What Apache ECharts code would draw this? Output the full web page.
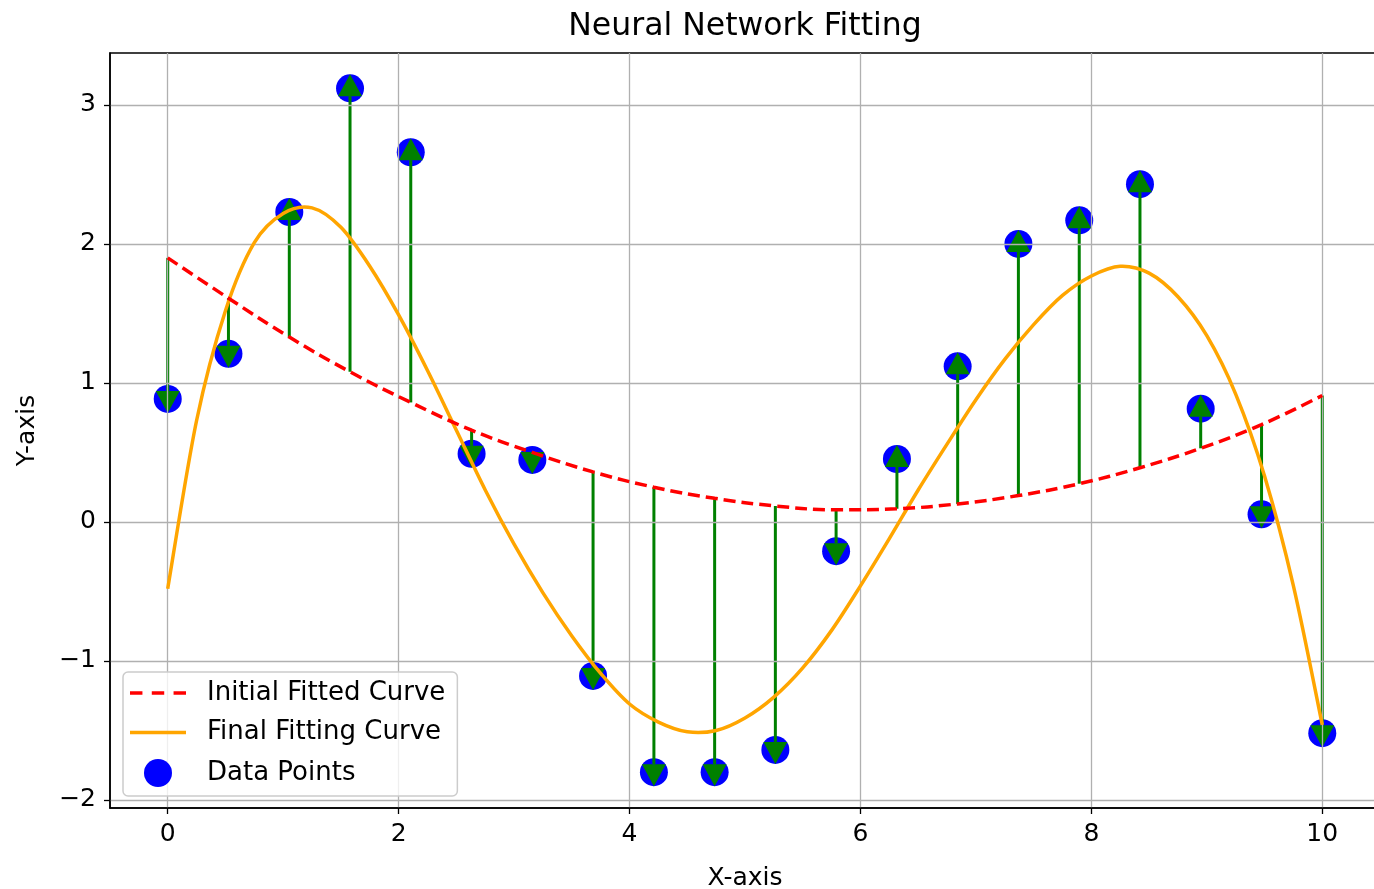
<!DOCTYPE html>
<html>
<head>
<meta charset="utf-8">
<script src="https://cdn.jsdelivr.net/npm/echarts@6/dist/echarts.min.js"></script>
<style>
html,body{margin:0;padding:0;background:#fff;}
#c{width:1374px;height:889px;}
</style>
</head>
<body>
<div id="c"></div>
<script>
// ---- data ----
const xPoints = [0, 0.526, 1.053, 1.579, 2.105, 2.632, 3.158, 3.684, 4.211, 4.737, 5.263, 5.789, 6.316, 6.842, 7.368, 7.895, 8.421, 8.947, 9.474, 10];
const yPoints = [0.885, 1.21, 2.23, 3.12, 2.66, 0.49, 0.446, -1.108, -1.80, -1.80, -1.64, -0.21, 0.453, 1.12, 2.0, 2.17, 2.43, 0.815, 0.055, -1.52];
const yInitial = [1.90, 1.61, 1.33, 1.08, 0.86, 0.66, 0.50, 0.36, 0.25, 0.17, 0.115, 0.087, 0.095, 0.13, 0.19, 0.275, 0.39, 0.53, 0.70, 0.91];
const xFinal = [0, 0.25, 0.5, 0.75, 1.0, 1.25, 1.5, 1.75, 2.0, 2.25, 2.5, 2.75, 3.0, 3.25, 3.5, 3.75, 4.0, 4.25, 4.5, 4.75, 5.0, 5.25, 5.5, 5.75, 6.0, 6.25, 6.5, 6.75, 7.0, 7.25, 7.5, 7.75, 8.0, 8.25, 8.5, 8.75, 9.0, 9.25, 9.5, 9.75, 10];
const yFinal = [-0.48, 0.73, 1.52, 2.01, 2.22, 2.26, 2.12, 1.84, 1.49, 1.09, 0.66, 0.23, -0.16, -0.51, -0.82, -1.09, -1.31, -1.44, -1.51, -1.50, -1.41, -1.26, -1.05, -0.78, -0.46, -0.12, 0.23, 0.56, 0.88, 1.17, 1.42, 1.63, 1.77, 1.84, 1.79, 1.62, 1.34, 0.92, 0.33, -0.46, -1.46];
const xTicks = [0, 2, 4, 6, 8, 10];
const yTicks = [-2, -1, 0, 1, 2, 3];
const titleText = 'Neural Network Fitting';
const xName = 'X-axis';
const yName = 'Y-axis';
const seriesNames = ['Initial Fitted Curve', 'Final Fitting Curve', 'Data Points'];

const FONT = 'DejaVu Sans';
const chart = echarts.init(document.getElementById('c'), null, {renderer: 'canvas'});

const initialData = xPoints.map((x, i) => [x, yInitial[i]]);
const finalData = xFinal.map((x, i) => [x, yFinal[i]]);
const pointData = xPoints.map((x, i) => [x, yPoints[i]]);
const arrowData = xPoints.map((x, i) => [x, yInitial[i], yPoints[i]]);

const fmt = v => String(v).replace('-', '\u2212');

function renderArrow(params, api) {
  const x = api.value(0), yA = api.value(1), yB = api.value(2);
  const p0 = api.coord([x, yA]);
  const p1 = api.coord([x, yB]);
  const d = p1[1] > p0[1] ? 1 : -1;
  const tip = p1[1] + d * 14;
  const base = p1[1] - d * 8;
  const hw = 12;
  return {
    type: 'group',
    children: [
      {type: 'line', shape: {x1: p0[0], y1: p0[1], x2: p1[0], y2: base}, style: {stroke: '#008000', lineWidth: 3}},
      {type: 'polygon', shape: {points: [[p1[0] - hw, base], [p1[0] + hw, base], [p1[0], tip]]}, style: {fill: '#008000'}}
    ]
  };
}

// smooth curve (Catmull-Rom) through the read samples, positioned with the axis scales
function renderSpline(params, api) {
  if (params.dataIndex !== 0) return null;
  const pts = finalData.map(p => api.coord(p));
  const n = pts.length;
  let d = 'M' + pts[0][0] + ' ' + pts[0][1];
  for (let i = 0; i < n - 1; i++) {
    const p0 = pts[Math.max(i - 1, 0)], p1 = pts[i], p2 = pts[i + 1], p3 = pts[Math.min(i + 2, n - 1)];
    const c1x = p1[0] + (p2[0] - p0[0]) / 6, c1y = p1[1] + (p2[1] - p0[1]) / 6;
    const c2x = p2[0] - (p3[0] - p1[0]) / 6, c2y = p2[1] - (p3[1] - p1[1]) / 6;
    d += ' C' + c1x + ' ' + c1y + ' ' + c2x + ' ' + c2y + ' ' + p2[0] + ' ' + p2[1];
  }
  return {
    type: 'path',
    shape: {pathData: d},
    style: {stroke: '#ffa500', lineWidth: 3.5, fill: null, lineJoin: 'round'}
  };
}

const option = {
  backgroundColor: '#ffffff',
  animation: false,
  title: {
    text: titleText,
    left: 740,
    top: 6,
    textAlign: 'center',
    textStyle: {fontFamily: FONT, fontSize: 31.5, fontWeight: 'normal', color: '#000'}
  },
  legend: {
    orient: 'vertical',
    left: 123,
    top: 672,
    data: [
      {name: seriesNames[0], icon: 'path://M0 0h12v3.5h-12z M21 0h12v3.5h-12z M42 0h12v3.5h-12z', itemStyle: {color: '#ff0000'}},
      {name: seriesNames[1], icon: 'path://M0 0h56v3.5h-56z', itemStyle: {color: '#ffa500'}},
      {name: seriesNames[2], icon: 'circle', itemStyle: {color: '#0000ff'}}
    ],
    itemWidth: 56,
    itemHeight: 28,
    itemGap: 13.5,
    padding: [8, 12, 9, 7],
    backgroundColor: 'rgba(255,255,255,0.8)',
    borderColor: '#cccccc',
    borderWidth: 1.5,
    borderRadius: 5,
    textStyle: {fontFamily: FONT, fontSize: 26, color: '#000', padding: [0, 0, 0, 16]},
    z: 10
  },
  grid: {
    left: 110, top: 53, right: -6, bottom: 81,
    show: true, borderColor: '#000', borderWidth: 1.5,
    outerBoundsMode: 'none',
    containLabel: false
  },
  xAxis: {
    type: 'value', min: -0.5, max: 10.5, z: 2,
    name: xName, nameLocation: 'middle', nameGap: 58,
    nameTextStyle: {fontFamily: FONT, fontSize: 25, color: '#000'},
    axisLine: {show: true, onZero: false, lineStyle: {color: '#000', width: 1.5}},
    axisTick: {show: true, length: 6, customValues: xTicks, lineStyle: {color: '#000', width: 1.3}},
    axisLabel: {customValues: xTicks, margin: 14, fontFamily: FONT, fontSize: 25, color: '#000', formatter: fmt},
    splitLine: {show: true, lineStyle: {color: '#b0b0b0', width: 1.3, type: 'solid'}}
  },
  yAxis: {
    type: 'value', min: -2.058, max: 3.374, z: 2,
    name: yName, nameLocation: 'middle', nameGap: 70,
    nameTextStyle: {fontFamily: FONT, fontSize: 25, color: '#000'},
    axisLine: {show: true, onZero: false, lineStyle: {color: '#000', width: 1.5}},
    axisTick: {show: true, length: 6, customValues: yTicks, lineStyle: {color: '#000', width: 1.3}},
    axisLabel: {customValues: yTicks, margin: 14, fontFamily: FONT, fontSize: 25, color: '#000', formatter: fmt},
    splitLine: {show: true, lineStyle: {color: '#b0b0b0', width: 1.3, type: 'solid'}}
  },
  series: [
    {
      name: seriesNames[0], type: 'line', data: initialData, smooth: 0.4,
      symbol: 'none', showSymbol: false, z: 4,
      lineStyle: {color: '#ff0000', width: 3.5, type: [12, 6]},
      itemStyle: {color: '#ff0000'}
    },
    {
      name: seriesNames[1], type: 'custom', data: finalData, renderItem: renderSpline, z: 4,
      encode: {x: 0, y: 1}, itemStyle: {color: '#ffa500'}, silent: true
    },
    {
      name: seriesNames[2], type: 'scatter', data: pointData, symbol: 'circle', symbolSize: 28, z: 1,
      itemStyle: {color: '#0000ff', opacity: 1}
    },
    {
      name: 'arrows', type: 'custom', data: arrowData, renderItem: renderArrow, z: 1.5,
      encode: {x: 0, y: [1, 2]}, silent: true
    }
  ]
};
chart.setOption(option);
</script>
</body>
</html>
